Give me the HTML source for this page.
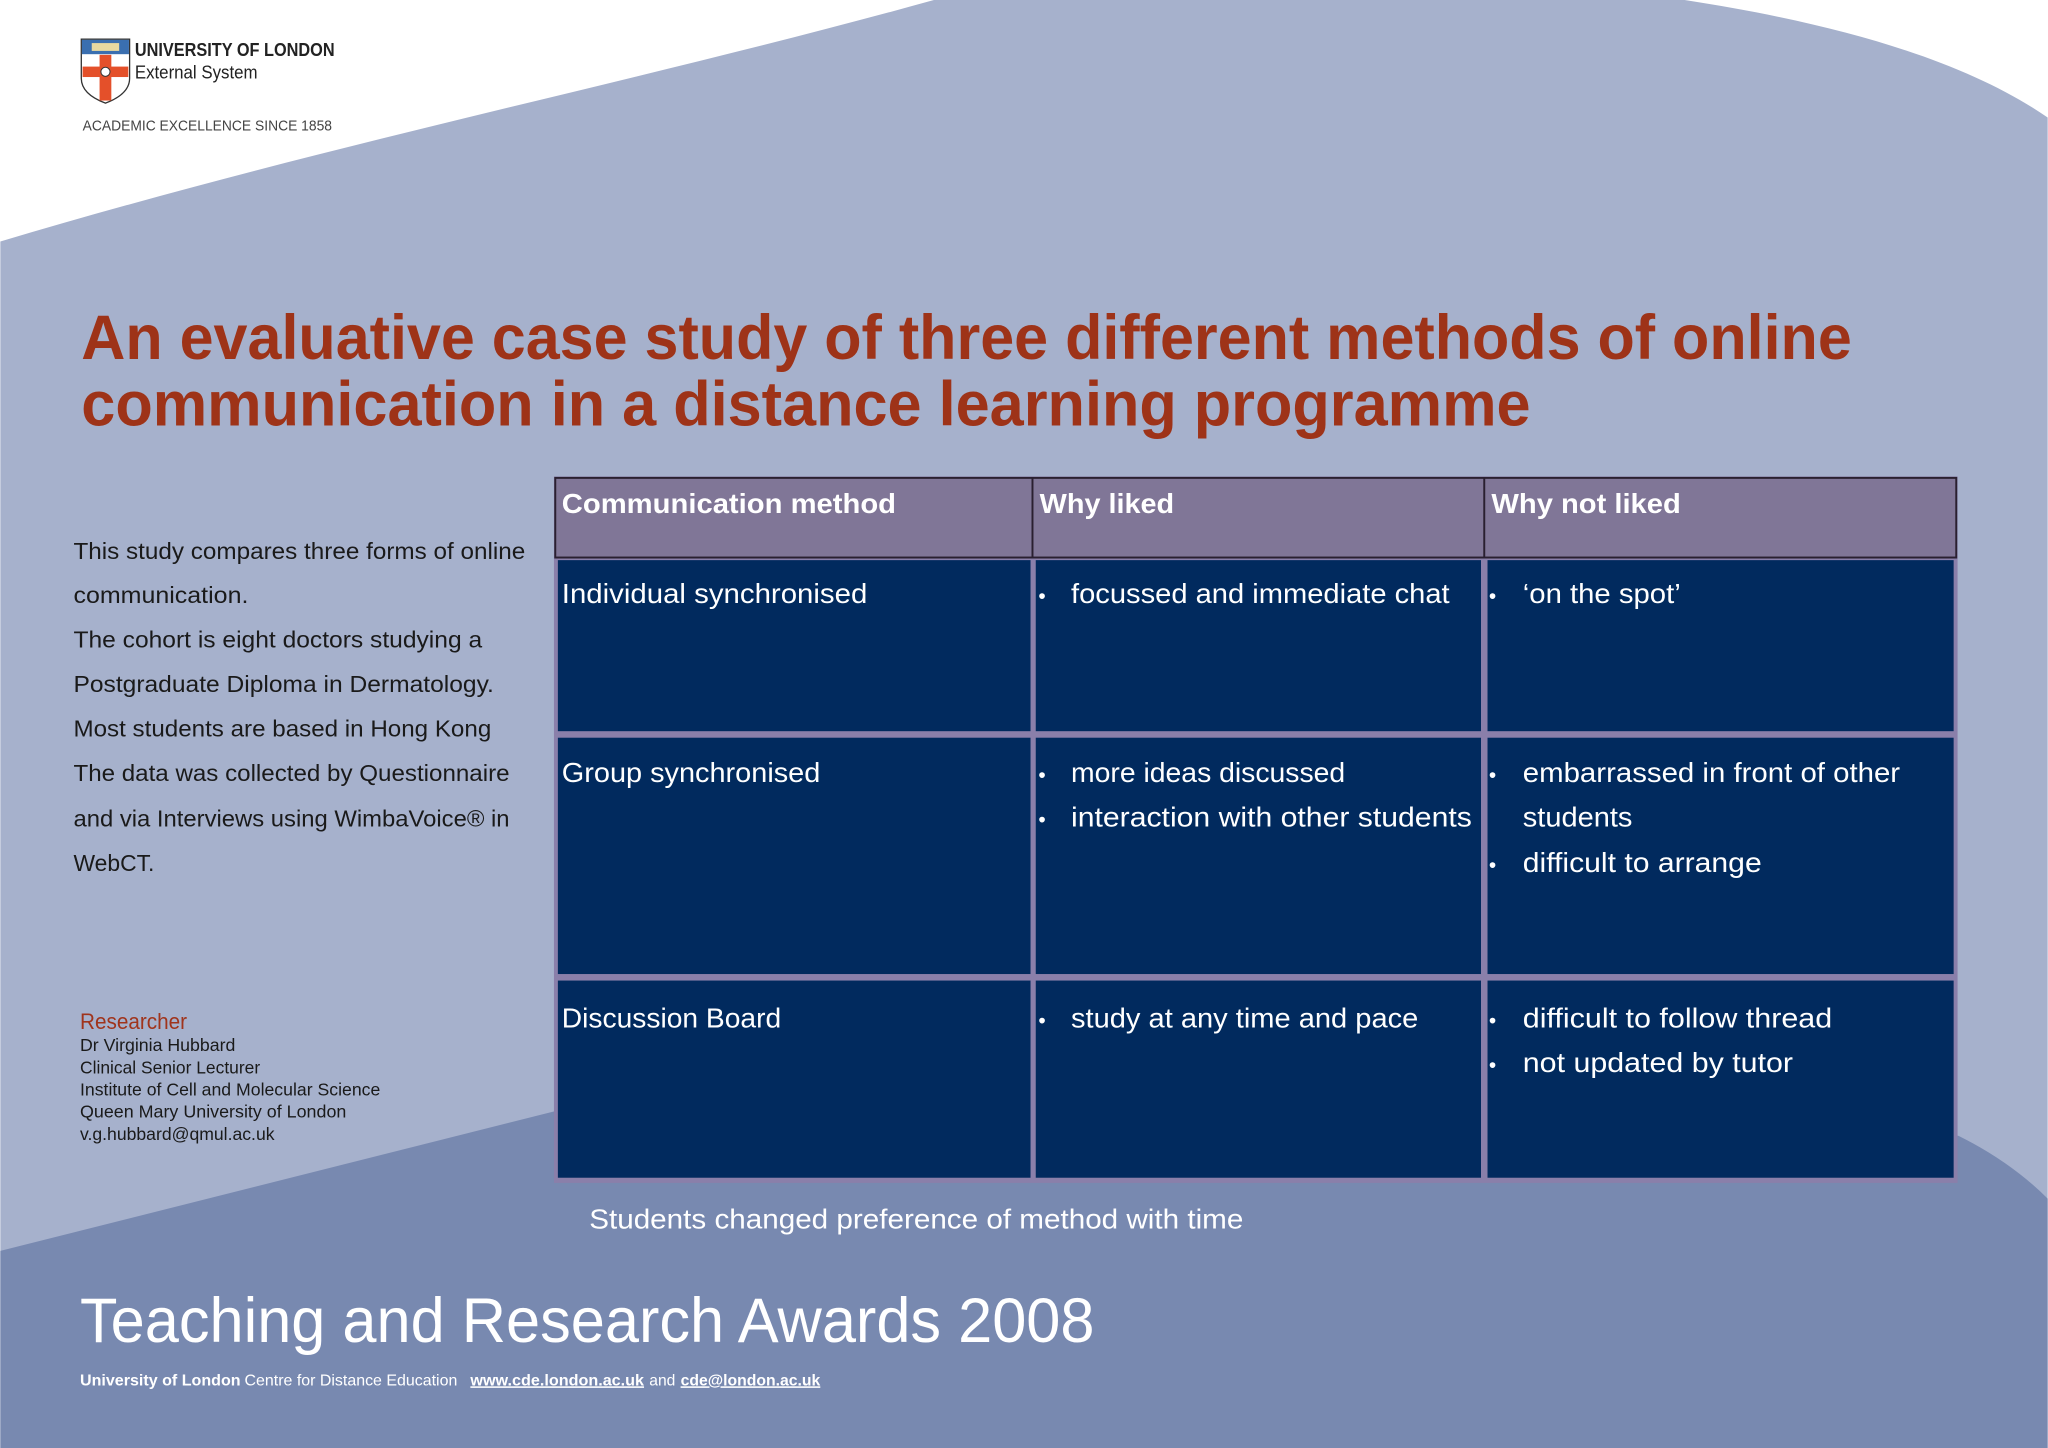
<!DOCTYPE html>
<html><head><meta charset="utf-8"><style>
html,body{margin:0;padding:0;background:#fff;width:2048px;height:1448px;overflow:hidden}
svg{display:block}
text{font-family:"Liberation Sans",sans-serif}
</style></head><body>
<svg width="2048" height="1448" viewBox="0 0 1568 1109" xmlns="http://www.w3.org/2000/svg">
<rect x="0" y="0" width="1568" height="1109" fill="#ffffff"/>
<path d="M0,185 C250,110 500,60 715,0 L1290,0 C1420,20 1510,50 1568,90 L1568,1109 L0,1109 Z" fill="#a6b1cc"/>
<path d="M0,958 L425,851 Q1000,720 1500,870 Q1540,890 1568,918 L1568,1109 L0,1109 Z" fill="#7889b0"/>

<g>
<path d="M62,30 L99,30 L99,60 Q99,72 80.5,79 Q62,72 62,60 Z" fill="#fff" stroke="#333" stroke-width="1"/>
<rect x="62.5" y="30.5" width="36" height="11" fill="#3a6fb0"/>
<rect x="70" y="33" width="21" height="6" fill="#e8d9a0"/>
<rect x="76" y="42" width="9" height="35" fill="#e4502a"/>
<rect x="63" y="51" width="35" height="8" fill="#e4502a"/>
<circle cx="80.5" cy="55" r="3.5" fill="#fff" stroke="#333" stroke-width="0.8"/>
</g>
<text x="103" y="43" font-size="14" font-weight="bold" fill="#222" textLength="153" lengthAdjust="spacingAndGlyphs">UNIVERSITY OF LONDON</text>
<text x="103" y="60" font-size="14" fill="#222" textLength="94" lengthAdjust="spacingAndGlyphs">External System</text>
<text x="63" y="100" font-size="11" fill="#444" textLength="191" lengthAdjust="spacingAndGlyphs">ACADEMIC EXCELLENCE SINCE 1858</text>

<text x="62" y="275" font-size="48" font-weight="bold" fill="#9e3318" textLength="1356" lengthAdjust="spacingAndGlyphs">An evaluative case study of three different methods of online</text>
<text x="62" y="326" font-size="48" font-weight="bold" fill="#9e3318" textLength="1110" lengthAdjust="spacingAndGlyphs">communication in a distance learning programme</text>

<g font-size="18" fill="#1a1a1a">
<text x="56" y="428" textLength="346" lengthAdjust="spacingAndGlyphs">This study compares three forms of online</text>
<text x="56" y="462" textLength="134" lengthAdjust="spacingAndGlyphs">communication.</text>
<text x="56" y="496" textLength="313" lengthAdjust="spacingAndGlyphs">The cohort is eight doctors studying a</text>
<text x="56" y="530" textLength="322" lengthAdjust="spacingAndGlyphs">Postgraduate Diploma in Dermatology.</text>
<text x="56" y="564" textLength="320" lengthAdjust="spacingAndGlyphs">Most students are based in Hong Kong</text>
<text x="56" y="598" textLength="334" lengthAdjust="spacingAndGlyphs">The data was collected by Questionnaire</text>
<text x="56" y="633" textLength="334" lengthAdjust="spacingAndGlyphs">and via Interviews using WimbaVoice® in</text>
<text x="56" y="667" textLength="62" lengthAdjust="spacingAndGlyphs">WebCT.</text>
</g>

<text x="61" y="788" font-size="17" fill="#a0341c" textLength="82" lengthAdjust="spacingAndGlyphs">Researcher</text>
<g font-size="13.5" fill="#1a1a1a">
<text x="61" y="805" textLength="119" lengthAdjust="spacingAndGlyphs">Dr Virginia Hubbard</text>
<text x="61" y="822" textLength="138" lengthAdjust="spacingAndGlyphs">Clinical Senior Lecturer</text>
<text x="61" y="839" textLength="230" lengthAdjust="spacingAndGlyphs">Institute of Cell and Molecular Science</text>
<text x="61" y="856" textLength="204" lengthAdjust="spacingAndGlyphs">Queen Mary University of London</text>
<text x="61" y="873" textLength="149" lengthAdjust="spacingAndGlyphs">v.g.hubbard@qmul.ac.uk</text>
</g>

<g>
<rect x="424" y="365" width="1075" height="541" fill="#8a7faa"/>
<rect x="425" y="366" width="1073" height="61" fill="#807697" stroke="#2a2030" stroke-width="1.5"/>
<line x1="790.5" y1="366" x2="790.5" y2="427" stroke="#2a2030" stroke-width="1.5"/>
<line x1="1136.5" y1="366" x2="1136.5" y2="427" stroke="#2a2030" stroke-width="1.5"/>
<g fill="#012a5e">
<rect x="427" y="429" width="362" height="131"/>
<rect x="793" y="429" width="341" height="131"/>
<rect x="1139" y="429" width="357" height="131"/>
<rect x="427" y="565" width="362" height="181"/>
<rect x="793" y="565" width="341" height="181"/>
<rect x="1139" y="565" width="357" height="181"/>
<rect x="427" y="751" width="362" height="151"/>
<rect x="793" y="751" width="341" height="151"/>
<rect x="1139" y="751" width="357" height="151"/>
</g>
<g font-size="21" font-weight="bold" fill="#fff">
<text x="430" y="393" textLength="256" lengthAdjust="spacingAndGlyphs">Communication method</text>
<text x="796" y="393" textLength="103" lengthAdjust="spacingAndGlyphs">Why liked</text>
<text x="1142" y="393" textLength="145" lengthAdjust="spacingAndGlyphs">Why not liked</text>
</g>
<g font-size="21" fill="#fff">
<text x="430" y="462" textLength="234" lengthAdjust="spacingAndGlyphs">Individual synchronised</text>
<text x="795" y="462" font-size="16">•</text>
<text x="820" y="462" textLength="290" lengthAdjust="spacingAndGlyphs">focussed and immediate chat</text>
<text x="1140" y="462" font-size="16">•</text>
<text x="1166" y="462" textLength="121" lengthAdjust="spacingAndGlyphs">‘on the spot’</text>

<text x="430" y="599" textLength="198" lengthAdjust="spacingAndGlyphs">Group synchronised</text>
<text x="795" y="599" font-size="16">•</text>
<text x="820" y="599" textLength="210" lengthAdjust="spacingAndGlyphs">more ideas discussed</text>
<text x="795" y="633" font-size="16">•</text>
<text x="820" y="633" textLength="307" lengthAdjust="spacingAndGlyphs">interaction with other students</text>
<text x="1140" y="599" font-size="16">•</text>
<text x="1166" y="599" textLength="289" lengthAdjust="spacingAndGlyphs">embarrassed in front of other</text>
<text x="1166" y="633" textLength="84" lengthAdjust="spacingAndGlyphs">students</text>
<text x="1140" y="668" font-size="16">•</text>
<text x="1166" y="668" textLength="183" lengthAdjust="spacingAndGlyphs">difficult to arrange</text>

<text x="430" y="787" textLength="168" lengthAdjust="spacingAndGlyphs">Discussion Board</text>
<text x="795" y="787" font-size="16">•</text>
<text x="820" y="787" textLength="266" lengthAdjust="spacingAndGlyphs">study at any time and pace</text>
<text x="1140" y="787" font-size="16">•</text>
<text x="1166" y="787" textLength="237" lengthAdjust="spacingAndGlyphs">difficult to follow thread</text>
<text x="1140" y="821" font-size="16">•</text>
<text x="1166" y="821" textLength="207" lengthAdjust="spacingAndGlyphs">not updated by tutor</text>
</g>
</g>

<text x="451" y="941" font-size="21" fill="#fff" textLength="501" lengthAdjust="spacingAndGlyphs">Students changed preference of method with time</text>
<text x="61" y="1028" font-size="48" fill="#fff" textLength="777" lengthAdjust="spacingAndGlyphs">Teaching and Research Awards 2008</text>
<g font-size="12" fill="#fff">
<text x="61" y="1061" font-weight="bold" textLength="123" lengthAdjust="spacingAndGlyphs">University of London</text>
<text x="187" y="1061" textLength="163" lengthAdjust="spacingAndGlyphs">Centre for Distance Education</text>
<text x="360" y="1061" font-weight="bold" text-decoration="underline" textLength="133" lengthAdjust="spacingAndGlyphs">www.cde.london.ac.uk</text>
<text x="497" y="1061" textLength="20" lengthAdjust="spacingAndGlyphs">and</text>
<text x="521" y="1061" font-weight="bold" text-decoration="underline" textLength="107" lengthAdjust="spacingAndGlyphs">cde@london.ac.uk</text>
</g>
</svg>
</body></html>
